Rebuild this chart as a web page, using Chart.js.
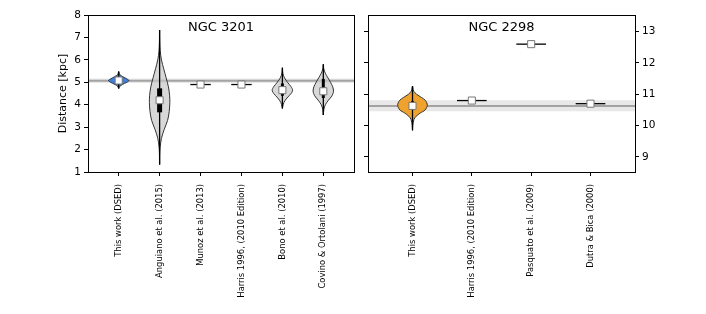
<!DOCTYPE html>
<html>
<head>
<meta charset="utf-8">
<script src="https://cdn.jsdelivr.net/npm/chart.js@4.4.0/dist/chart.umd.min.js"></script>
<style>
  html, body { margin: 0; padding: 0; background: #fff; }
  #wrap { position: relative; width: 706px; height: 314px; }
  #left { position: absolute; left: 0; top: 0; }
  #right { position: absolute; left: 360px; top: 0; }
</style>
</head>
<body>
<div id="wrap">
  <canvas id="left" width="360" height="314"></canvas>
  <canvas id="right" width="346" height="314"></canvas>
</div>
<script>
// ---- NGC 3201 ----
var labels3201 = ["This work (DSED)", "Anguiano et al. (2015)", "Munoz et al. (2013)",
                  "Harris 1996, (2010 Edition)", "Bono et al. (2010)", "Covino & Ortolani (1997)"];
var yTicks3201 = [1, 2, 3, 4, 5, 6, 7, 8];
var ref3201 = [4.97, 5.07, 5.17];   // band low, line, band high

// violin profiles: distance [kpc] and relative width; stats = min, q1, median, q3, max
var dsed3201Dist  = [4.72, 4.8, 4.9, 5.0, 5.08, 5.15, 5.25, 5.35, 5.48];
var dsed3201Width = [0, 0.08, 0.35, 0.8, 1.0, 0.8, 0.4, 0.1, 0];
var dsed3201Stats = [4.72, 5.0, 5.08, 5.15, 5.48];

var anguianoDist  = [1.33, 1.7, 2.1, 2.5, 2.9, 3.3, 3.7, 4.1, 4.4, 4.8, 5.2, 5.6, 6.0, 6.4, 6.8, 7.33];
var anguianoWidth = [0, 0.01, 0.05, 0.18, 0.45, 0.78, 0.94, 1.0, 0.98, 0.86, 0.64, 0.4, 0.18, 0.06, 0.02, 0];
var anguianoStats = [1.33, 3.66, 4.2, 4.73, 7.33];

var munoz3201 = 4.9;
var harris3201 = 4.9;

var bonoDist  = [3.83, 3.9, 4.1, 4.3, 4.5, 4.65, 4.8, 5.0, 5.2, 5.4, 5.65];
var bonoWidth = [0, 0.03, 0.15, 0.45, 0.85, 1.0, 0.85, 0.5, 0.2, 0.05, 0];
var bonoStats = [3.83, 4.4, 4.65, 4.95, 5.65];

var covinoDist  = [3.54, 3.8, 4.0, 4.2, 4.4, 4.6, 4.8, 5.0, 5.2, 5.4, 5.6, 5.8];
var covinoWidth = [0, 0.06, 0.2, 0.5, 0.85, 1.0, 0.92, 0.7, 0.45, 0.2, 0.05, 0];
var covinoStats = [3.54, 4.3, 4.6, 5.15, 5.8];

// ---- NGC 2298 ----
var labels2298 = ["This work (DSED)", "Harris 1996, (2010 Edition)", "Pasquato et al. (2009)", "Dutra & Bica (2000)"];
var yTicks2298 = [9, 10, 11, 12, 13];
var ref2298 = [10.46, 10.63, 10.81];

var dsed2298Dist  = [9.85, 10.0, 10.2, 10.3, 10.4, 10.5, 10.65, 10.8, 10.9, 11.0, 11.1, 11.26];
var dsed2298Width = [0, 0.02, 0.1, 0.25, 0.52, 0.85, 1.0, 0.88, 0.6, 0.28, 0.08, 0];
var dsed2298Stats = [9.85, 10.5, 10.63, 10.78, 11.26];

var harris2298 = 10.8;
var pasquato2298 = 12.6;
var dutra2298 = 10.7;

Chart.defaults.font.family = "'DejaVu Sans', sans-serif";
Chart.defaults.color = "#000";
Chart.defaults.animation = false;

var HALF = 0.25; // half width of violins / estimate bars, in category units

function marker(pos, v) {
    return {
        data: [{ x: pos, y: v }], showLine: false, pointStyle: "rect", pointRadius: 5,
        pointBackgroundColor: "#fff", pointBorderColor: "#777", pointBorderWidth: 1, order: 1
    };
}

function violin(pos, dist, width, stats, face, boxWidth) {
    var outline = [];
    for (var i = 0; i < dist.length; i++) outline.push({ x: pos + HALF * width[i], y: dist[i] });
    for (var j = dist.length - 2; j >= 0; j--) outline.push({ x: pos - HALF * width[j], y: dist[j] });
    return [
        { data: outline, fill: "shape", backgroundColor: face, borderColor: "#333", borderWidth: 1, tension: 0.3, order: 5 },
        { data: [{ x: pos, y: stats[0] }, { x: pos, y: stats[4] }], borderColor: "#000", borderWidth: 1.3, order: 4 },
        { data: [{ x: pos, y: stats[1] }, { x: pos, y: stats[3] }], borderColor: "#000", borderWidth: boxWidth, borderCapStyle: "butt", order: 3 },
        marker(pos, stats[2])
    ];
}

function estimate(pos, v) {
    return [
        { data: [{ x: pos - HALF, y: v }, { x: pos + HALF, y: v }], borderColor: "#000", borderWidth: 1.3, order: 3 },
        marker(pos, v)
    ];
}

function reference(ref, x0, x1) {
    return [
        { data: [{ x: x0, y: ref[0] }, { x: x1, y: ref[0] }, { x: x1, y: ref[2] }, { x: x0, y: ref[2] }, { x: x0, y: ref[0] }],
          fill: "shape", backgroundColor: "rgba(190,190,190,0.35)", borderColor: "rgba(0,0,0,0)", order: 10 },
        { data: [{ x: x0, y: ref[1] }, { x: x1, y: ref[1] }], borderColor: "rgba(140,140,140,0.75)", borderWidth: 2, order: 9 }
    ];
}

var panelFrame = {
    id: "panelFrame",
    afterDraw: function (chart, args, opts) {
        var ctx = chart.ctx, a = chart.chartArea;
        ctx.save();
        ctx.strokeStyle = "#000";
        ctx.lineWidth = 1;
        ctx.strokeRect(Math.round(a.left) + 0.5, Math.round(a.top) + 0.5,
                       Math.round(a.right) - Math.round(a.left), Math.round(a.bottom) - Math.round(a.top));
        ctx.font = "13px 'DejaVu Sans'";
        ctx.fillStyle = "#000";
        ctx.textAlign = "center";
        ctx.textBaseline = "middle";
        ctx.fillText(opts.text, (a.left + a.right) / 2, a.top + 13);
        ctx.restore();
    }
};

function xAxis(labels, xMin, xMax) {
    return {
        type: "linear", min: xMin, max: xMax,
        afterBuildTicks: function (ax) { ax.ticks = labels.map(function (_, i) { return { value: i + 1 }; }); },
        afterFit: function (ax) { ax.height = 142; },
        ticks: {
            callback: function (v) { return labels[v - 1]; },
            minRotation: 90, maxRotation: 90, autoSkip: false,
            font: { size: 8.4 }, padding: 8
        },
        grid: { drawOnChartArea: false, tickLength: 4, color: "#000" },
        border: { color: "#000" }
    };
}

function yAxis(ticks, yMin, yMax, pos, width, showLabels) {
    return {
        type: "linear", position: pos, min: yMin, max: yMax,
        afterBuildTicks: function (ax) { ax.ticks = ticks.map(function (v) { return { value: v }; }); },
        afterFit: function (ax) { ax.width = width; },
        ticks: { display: showLabels, font: { size: 10.5 }, padding: 3 },
        grid: { drawOnChartArea: false, tickLength: 4, color: "#000" },
        border: { color: "#000" }
    };
}

var leftSets = [].concat(
    reference(ref3201, 0.25, 6.75),
    violin(1, dsed3201Dist, dsed3201Width, dsed3201Stats, "#3f7fdc", 3),
    violin(2, anguianoDist, anguianoWidth, anguianoStats, "rgba(200,200,200,0.7)", 5),
    estimate(3, munoz3201),
    estimate(4, harris3201),
    violin(5, bonoDist, bonoWidth, bonoStats, "rgba(200,200,200,0.7)", 3),
    violin(6, covinoDist, covinoWidth, covinoStats, "rgba(200,200,200,0.7)", 3)
);

var leftY = yAxis(yTicks3201, 1, 8, "left", 88, true);
leftY.title = { display: true, text: "Distance [kpc]", font: { size: 11 }, padding: { top: 57 } };

new Chart(document.getElementById("left"), {
    type: "line",
    data: { datasets: leftSets },
    options: {
        responsive: false,
        layout: { padding: { top: 15, right: 5, left: 0, bottom: 0 } },
        elements: { point: { radius: 0 }, line: { tension: 0 } },
        plugins: { legend: { display: false }, tooltip: { enabled: false }, panelFrame: { text: "NGC 3201" } },
        scales: { x: xAxis(labels3201, 0.25, 6.75), y: leftY }
    },
    plugins: [panelFrame]
});

var rightSets = [].concat(
    reference(ref2298, 0.25, 4.75),
    violin(1, dsed2298Dist, dsed2298Width, dsed2298Stats, "#f0a22e", 3),
    estimate(2, harris2298),
    estimate(3, pasquato2298),
    estimate(4, dutra2298)
);

new Chart(document.getElementById("right"), {
    type: "line",
    data: { datasets: rightSets },
    options: {
        responsive: false,
        layout: { padding: { top: 15, right: 0, left: 0, bottom: 0 } },
        elements: { point: { radius: 0 }, line: { tension: 0 } },
        plugins: { legend: { display: false }, tooltip: { enabled: false }, panelFrame: { text: "NGC 2298" } },
        scales: {
            x: xAxis(labels2298, 0.25, 4.75),
            y: yAxis(yTicks2298, 8.52, 13.53, "right", 71, true),
            yl: yAxis(yTicks2298, 8.52, 13.53, "left", 8, false)
        }
    },
    plugins: [panelFrame]
});
</script>
</body>
</html>
